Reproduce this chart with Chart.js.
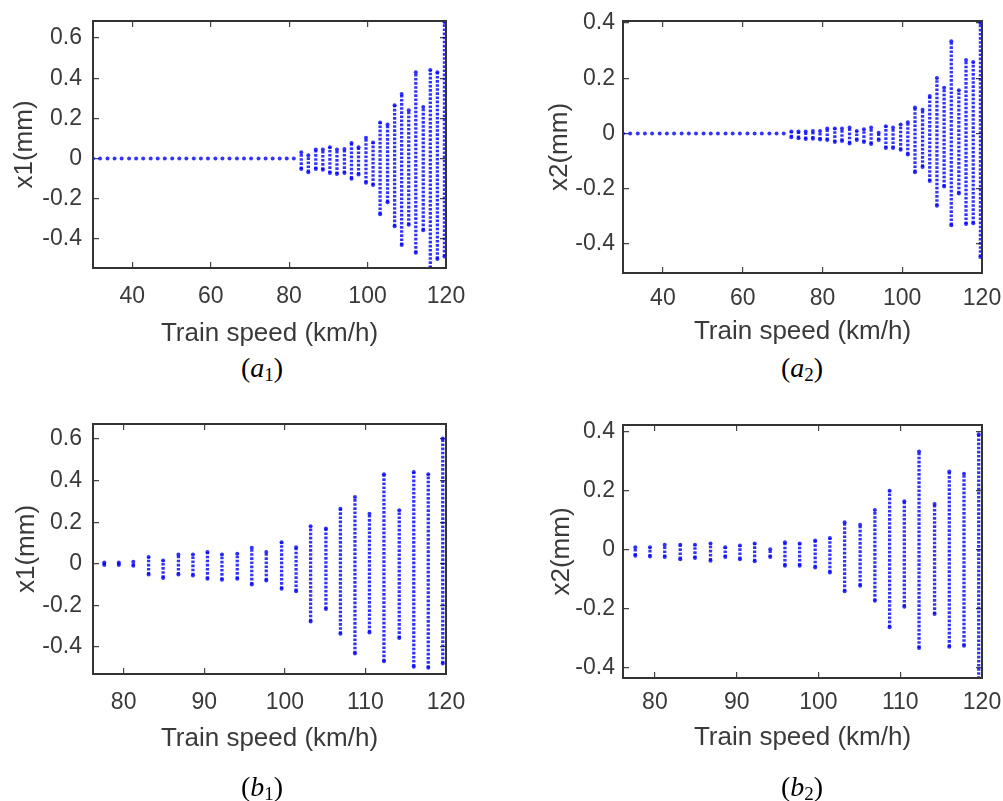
<!DOCTYPE html>
<html><head><meta charset="utf-8">
<script src="https://cdn.jsdelivr.net/npm/chart.js@4.4.0/dist/chart.umd.min.js"></script>
<style>
html,body{margin:0;padding:0;background:#fff;}
body{width:1003px;height:801px;position:relative;overflow:hidden;}
canvas{position:absolute;}
.cap{position:absolute;font-family:"Liberation Serif","Times New Roman",serif;font-size:28px;color:#000;transform:translate(-50%,-50%);white-space:nowrap;line-height:1;}
.cap i{font-style:italic;}
.cap .s{font-size:19px;position:relative;top:4px;}
</style></head><body>
<canvas id="a1" width="470" height="350" style="left:0;top:0"></canvas>
<canvas id="a2" width="503" height="350" style="left:500px;top:0"></canvas>
<canvas id="b1" width="470" height="401" style="left:0;top:400px"></canvas>
<canvas id="b2" width="503" height="401" style="left:500px;top:400px"></canvas>
<div class="cap" style="left:262px;top:368px">(<i>a</i><span class="s">1</span>)</div>
<div class="cap" style="left:802px;top:368px">(<i>a</i><span class="s">2</span>)</div>
<div class="cap" style="left:262px;top:787px">(<i>b</i><span class="s">1</span>)</div>
<div class="cap" style="left:802px;top:787px">(<i>b</i><span class="s">2</span>)</div>
<script>
// ---- data ----
const speedsA = [30.0, 31.8, 33.7, 35.5, 37.3, 39.2, 41.0, 42.8, 44.7, 46.5, 48.3, 50.2, 52.0, 53.8, 55.7, 57.5, 59.3, 61.2, 63.0, 64.8, 66.7, 68.5, 70.3, 72.2, 74.0, 75.8, 77.6, 79.4, 81.2, 83.1, 84.9, 86.8, 88.6, 90.4, 92.2, 94.1, 95.9, 97.7, 99.6, 101.4, 103.2, 105.1, 106.9, 108.7, 110.5, 112.3, 114.2, 116.0, 117.8, 119.6];
const speedsB = [77.6, 79.4, 81.2, 83.1, 84.9, 86.8, 88.6, 90.4, 92.2, 94.1, 95.9, 97.7, 99.6, 101.4, 103.2, 105.1, 106.9, 108.7, 110.5, 112.3, 114.2, 116.0, 117.8, 119.6];

const a1High = [0,0,0,0,0,0,0,0,0,0,0,0,0,0,0,0,0,0,0,0,0,0,0,0,0,0,0,0,0, 0.032, 0.016, 0.045, 0.045, 0.056, 0.045, 0.048, 0.077, 0.056, 0.104, 0.08, 0.18, 0.169, 0.265, 0.321, 0.241, 0.43, 0.257, 0.441, 0.43, 0.68];
const a1Low  = [0,0,0,0,0,0,0,0,0,0,0,0,0,0,0,0,0,0,0,0,0,0,0,0,0,0,0,0,0, -0.052, -0.068, -0.052, -0.056, -0.072, -0.077, -0.072, -0.10, -0.08, -0.12, -0.132, -0.277, -0.217, -0.337, -0.431, -0.33, -0.469, -0.357, -0.545, -0.50, -0.488];

const a2High = [0,0,0,0,0,0,0,0,0,0,0,0,0,0,0,0,0,0,0,0,0,0,0, 0.007, 0.007, 0.007, 0.009, 0.009, 0.018, 0.018, 0.018, 0.022, 0.009, 0.015, 0.022, 0.003, 0.026, 0.022, 0.032, 0.041, 0.094, 0.086, 0.136, 0.201, 0.165, 0.334, 0.156, 0.266, 0.259, 0.40];
const a2Low  = [0,0,0,0,0,0,0,0,0,0,0,0,0,0,0,0,0,0,0,0,0,0,0, -0.014, -0.017, -0.02, -0.019, -0.022, -0.024, -0.031, -0.027, -0.036, -0.024, -0.031, -0.038, -0.024, -0.053, -0.053, -0.059, -0.076, -0.14, -0.121, -0.172, -0.262, -0.192, -0.332, -0.217, -0.328, -0.325, -0.447];

const b1High = [0.006, 0.006, 0.01, 0.032, 0.016, 0.045, 0.045, 0.056, 0.045, 0.048, 0.077, 0.056, 0.104, 0.08, 0.18, 0.169, 0.265, 0.321, 0.241, 0.43, 0.257, 0.441, 0.43, 0.602];
const b1Low  = [-0.006, -0.006, -0.01, -0.052, -0.068, -0.052, -0.056, -0.072, -0.077, -0.072, -0.10, -0.08, -0.12, -0.132, -0.277, -0.217, -0.337, -0.431, -0.33, -0.469, -0.357, -0.495, -0.50, -0.479];

const b2High = [0.009, 0.009, 0.018, 0.018, 0.018, 0.022, 0.009, 0.015, 0.022, 0.003, 0.026, 0.022, 0.032, 0.041, 0.094, 0.086, 0.136, 0.201, 0.165, 0.334, 0.156, 0.266, 0.259, 0.393];
const b2Low  = [-0.019, -0.022, -0.024, -0.031, -0.027, -0.036, -0.024, -0.031, -0.038, -0.024, -0.053, -0.053, -0.059, -0.076, -0.14, -0.121, -0.172, -0.262, -0.192, -0.332, -0.217, -0.328, -0.325, -0.437];

const xTicksA = [40, 60, 80, 100, 120];
const xTicksB = [80, 90, 100, 110, 120];
const yTicksX1 = [-0.4, -0.2, 0, 0.2, 0.4, 0.6];
const yTicksX2 = [-0.4, -0.2, 0, 0.2, 0.4];
const xTitle = 'Train speed (km/h)';

// ---- drawing ----
const FONT = "'Liberation Sans', Arial, Helvetica, sans-serif";
const TXT = '#3a3a3a';
const BLUE = 'rgba(0,0,255,0.8)';
const fmt = v => String(Math.round(v * 10) / 10);

const framePlugin = {
  id: 'frame',
  afterDatasetsDraw(chart) {
    const a = chart.chartArea, ctx = chart.ctx;
    ctx.save();
    ctx.strokeStyle = '#333';
    ctx.lineWidth = 2;
    ctx.strokeRect(a.left, a.top, a.right - a.left, a.bottom - a.top);
    ctx.restore();
  }
};

function makeChart(id, xs, lo, hi, o) {
  const seg = [], ends = [];
  xs.forEach((x, i) => {
    seg.push({x: x, y: lo[i]}, {x: x, y: hi[i]}, {x: x, y: null});
    ends.push({x: x, y: lo[i]});
    if (hi[i] !== lo[i]) ends.push({x: x, y: hi[i]});
  });
  return new Chart(document.getElementById(id), {
    type: 'scatter',
    data: {datasets: [
      {data: seg, showLine: true, spanGaps: false, borderColor: BLUE, borderWidth: 3.3,
       borderDash: [2.6, 1.5], pointRadius: 0, pointHoverRadius: 0, pointHitRadius: 0},
      {data: ends, showLine: false, pointRadius: 2, pointBackgroundColor: BLUE,
       pointBorderWidth: 0, pointHoverRadius: 0}
    ]},
    options: {
      responsive: false, animation: false, devicePixelRatio: 1, events: [],
      layout: {padding: {left: 0, top: o.padTop, right: o.padRight, bottom: o.padBottom}},
      plugins: {legend: {display: false}, tooltip: {enabled: false}},
      scales: {
        x: {
          type: 'linear', position: 'bottom', min: o.xMin, max: o.xMax,
          afterFit: s => { s.height = o.xAxisH; s.paddingLeft = 0; s.paddingRight = 0; },
          afterBuildTicks: s => { s.ticks = o.xTicks.map(v => ({value: v})); },
          grid: {drawTicks: false, color: '#444', lineWidth: 1.2},
          border: {display: false, dash: c => [6, c.chart.chartArea.height - 12]},
          ticks: {padding: o.xTickPad, color: TXT, font: {family: FONT, size: 23},
                  callback: v => fmt(v), maxRotation: 0, autoSkip: false},
          title: {display: true, text: xTitle, color: TXT, font: {family: FONT, size: 26},
                  padding: {top: 0, bottom: 0}}
        },
        y: {
          type: 'linear', position: 'left', min: o.yMin, max: o.yMax,
          afterFit: s => { s.width = o.yAxisW; s.paddingTop = 0; s.paddingBottom = 0; },
          afterBuildTicks: s => { s.ticks = o.yTicks.map(v => ({value: v})); },
          grid: {drawTicks: false, color: '#444', lineWidth: 1.2},
          border: {display: false, dash: c => [6, c.chart.chartArea.width - 12]},
          ticks: {padding: o.yTickPad, color: TXT, font: {family: FONT, size: 23},
                  callback: v => fmt(v), autoSkip: false},
          title: {display: true, text: o.yLabel, color: TXT, font: {family: FONT, size: 26},
                  padding: {top: o.yTitlePad, bottom: 0}}
        }
      }
    },
    plugins: [framePlugin]
  });
}

makeChart('a1', speedsA, a1Low, a1High, {
  xMin: 30, xMax: 120, yMin: -0.545, yMax: 0.685, xTicks: xTicksA, yTicks: yTicksX1, yLabel: 'x1(mm)',
  padTop: 21, padRight: 24, padBottom: 1, xAxisH: 81, yAxisW: 93, xTickPad: 15, yTickPad: 11, yTitlePad: 9
});
makeChart('a2', speedsA, a2Low, a2High, {
  xMin: 30, xMax: 120, yMin: -0.505, yMax: 0.407, xTicks: xTicksA, yTicks: yTicksX2, yLabel: 'x2(mm)',
  padTop: 21, padRight: 21, padBottom: 3, xAxisH: 74, yAxisW: 123, xTickPad: 12, yTickPad: 8, yTitlePad: 44
});
makeChart('b1', speedsB, b1Low, b1High, {
  xMin: 76.2, xMax: 120, yMin: -0.53, yMax: 0.672, xTicks: xTicksB, yTicks: yTicksX1, yLabel: 'x1(mm)',
  padTop: 24, padRight: 24, padBottom: 47, xAxisH: 80, yAxisW: 93, xTickPad: 15, yTickPad: 11, yTitlePad: 11
});
makeChart('b2', speedsB, b2Low, b2High, {
  xMin: 76.1, xMax: 120, yMin: -0.434, yMax: 0.424, xTicks: xTicksB, yTicks: yTicksX2, yLabel: 'x2(mm)',
  padTop: 25, padRight: 21, padBottom: 48, xAxisH: 75, yAxisW: 123, xTickPad: 11, yTickPad: 8, yTitlePad: 46
});
</script>
</body></html>
